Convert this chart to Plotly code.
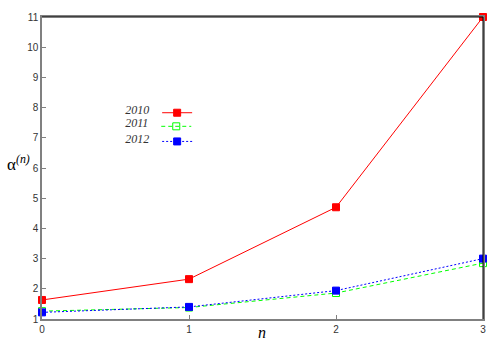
import plotly.graph_objects as go

# dados
n = [0, 1, 2, 3]
years = ['2010', '2011', '2012']
alpha_2010 = [1.63, 2.32, 4.70, 11.0]
alpha_2011 = [1.26, 1.38, 1.86, 2.85]
alpha_2012 = [1.22, 1.40, 1.94, 3.00]

series = [alpha_2010, alpha_2011, alpha_2012]
colors = ['#ff0000', '#00ff00', '#0000ff']
dashes = ['solid', '4px,3px', '2px,2px']
symbols = ['square', 'square-open', 'square']
legends = ['legend', 'legend2', 'legend3']
legend_y = [0.683, 0.638, 0.588]

fig = go.Figure()
for vals, c, d, s, lg in zip(series, colors, dashes, symbols, legends):
    fig.add_trace(go.Scatter(
        x=n, y=vals, mode='lines+markers', name='', legend=lg,
        line=dict(color=c, dash=d, width=1),
        marker=dict(symbol=s, size=7, color=c, line=dict(color=c, width=1)),
        cliponaxis=False
    ))

# uma legenda por série, com o ano à esquerda do símbolo (como no gnuplot)
legend_layout = {}
for lg, yr, ly in zip(legends, years, legend_y):
    legend_layout[lg] = dict(
        x=0.184, y=ly, xanchor='left', yanchor='middle',
        bgcolor='rgba(0,0,0,0)', borderwidth=0,
        itemwidth=30, font=dict(size=10),
        title=dict(text='<i>' + yr + '</i>', side='left',
                   font=dict(family='Liberation Serif', size=12, color='#333333'))
    )

fig.add_annotation(
    x=-0.054, y=0.516, xref='paper', yref='paper',
    text='α<sup><i>(n)</i></sup>', showarrow=False, xanchor='center', yanchor='middle',
    font=dict(family='Liberation Serif', size=17, color='black')
)
fig.add_annotation(
    x=0.499, y=-0.045, xref='paper', yref='paper',
    text='<i>n</i>', showarrow=False, xanchor='center', yanchor='middle',
    font=dict(family='Liberation Serif', size=16, color='black')
)

# borda de cima e da direita em preto
fig.add_shape(type='line', xref='paper', yref='paper', x0=0, x1=1, y0=1, y1=1,
              line=dict(color='black', width=1))
fig.add_shape(type='line', xref='paper', yref='paper', x0=1, x1=1, y0=0, y1=1,
              line=dict(color='black', width=1))

fig.update_xaxes(
    range=[0, 3], tickvals=n, showgrid=False, zeroline=False,
    showline=True, linecolor='#808080', linewidth=1.5, mirror=True,
    ticks='inside', ticklen=4, tickcolor='#808080',
    tickfont=dict(family='Liberation Sans', size=10, color='#333333')
)
fig.update_yaxes(
    range=[1, 11], dtick=1, showgrid=False, zeroline=False,
    showline=True, linecolor='#808080', linewidth=1.5, mirror=True,
    ticks='inside', ticklen=4, tickcolor='#808080',
    tickfont=dict(family='Liberation Sans', size=10, color='#333333')
)

fig.update_layout(
    width=500, height=350,
    margin=dict(l=42, r=17, t=11, b=31),
    plot_bgcolor='white', paper_bgcolor='white',
    showlegend=True,
    **legend_layout
)

fig.write_html('out.html', config={'displayModeBar': False},
               post_script="document.body.style.margin='0';")
